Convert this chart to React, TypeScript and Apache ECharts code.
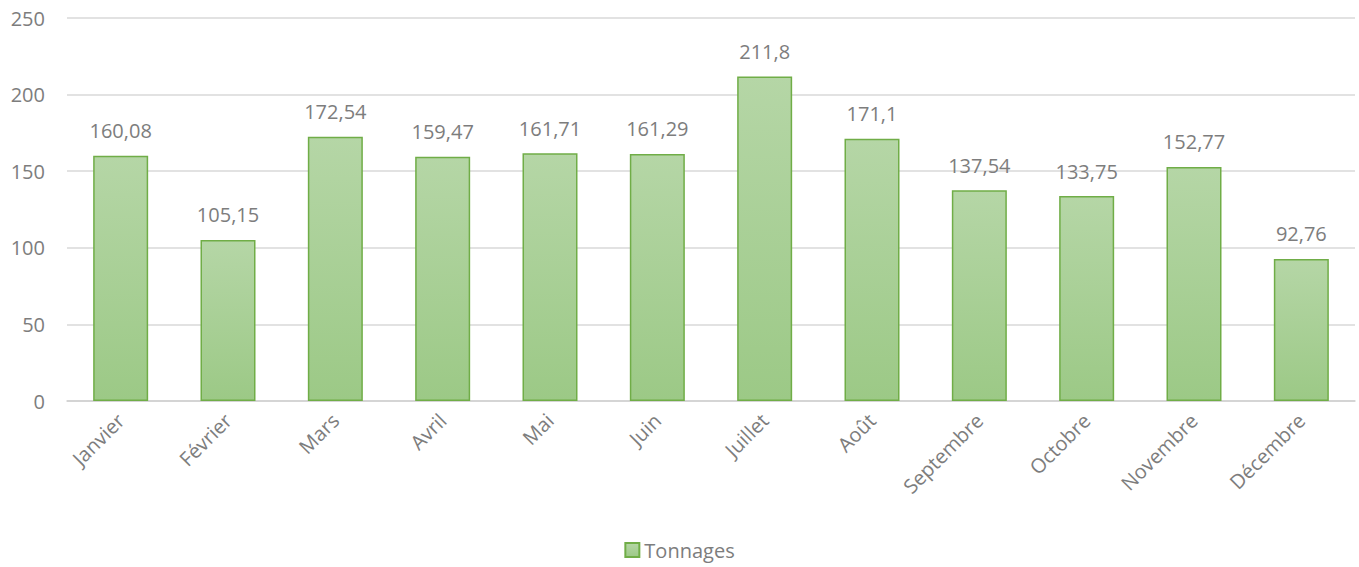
import React, { useEffect, useRef } from "react";
import * as echarts from "echarts";

const months = ["Janvier", "Février", "Mars", "Avril", "Mai", "Juin", "Juillet", "Août", "Septembre", "Octobre", "Novembre", "Décembre"];
const tonnages = [160.08, 105.15, 172.54, 159.47, 161.71, 161.29, 211.8, 171.1, 137.54, 133.75, 152.77, 92.76];
const seriesName = "Tonnages";

const FONT = "'Open Sans', 'Liberation Sans', sans-serif";
const GRAY = "#7d7d7d";

export default function App() {
  const ref = useRef<HTMLDivElement>(null);
  useEffect(() => {
    if (!ref.current) return;
    const chart = echarts.init(ref.current, undefined, { renderer: "svg" });
    const fill = new echarts.graphic.LinearGradient(0, 0, 0, 1, [
      { offset: 0, color: "#b5d6a6" },
      { offset: 1, color: "#9cc986" },
    ]);
    chart.setOption({
      animation: false,
      textStyle: { fontFamily: FONT },
      grid: { left: 67, right: 4, top: 18, bottom: 166, containLabel: false },
      legend: {
        bottom: 2,
        left: "center",
        itemWidth: 14,
        itemHeight: 14,
        itemGap: 6,
        icon: "rect",
        textStyle: { color: GRAY, fontSize: 20, fontFamily: FONT },
        data: [seriesName],
      },
      xAxis: {
        type: "category",
        data: months,
        axisLine: { show: true, lineStyle: { color: "#d0d0d0", width: 1.5 } },
        axisTick: { show: false },
        axisLabel: { rotate: 45, color: GRAY, fontSize: 20, fontFamily: FONT, margin: 16, interval: 0 },
      },
      yAxis: {
        type: "value",
        min: 0,
        max: 250,
        interval: 50,
        axisLine: { show: false },
        axisTick: { show: false },
        splitLine: { lineStyle: { color: "#d9d9d9", width: 1.5 } },
        axisLabel: { color: GRAY, fontSize: 20, fontFamily: FONT, margin: 22 },
      },
      series: [
        {
          name: seriesName,
          type: "bar",
          data: tonnages,
          barWidth: 55,
          itemStyle: { color: fill, borderColor: "#70ad47", borderWidth: 1.5 },
          label: {
            show: true,
            position: "top",
            distance: 15,
            color: GRAY,
            fontSize: 20,
            fontFamily: FONT,
            formatter: (p: any) => String(p.value).replace(".", ","),
          },
        },
      ],
    });
    return () => chart.dispose();
  }, []);
  return <div ref={ref} style={{ position: "fixed", left: 0, top: 0, width: 1359, height: 567, background: "#fff" }} />;
}
